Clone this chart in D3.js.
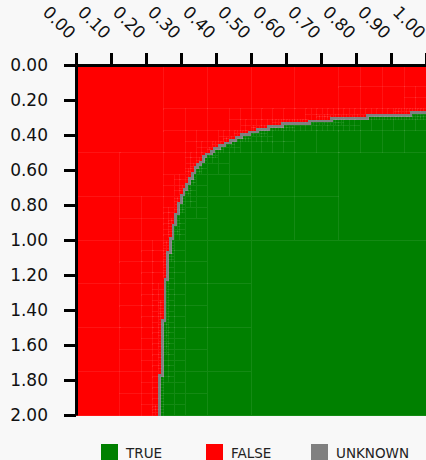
<!DOCTYPE html>
<html>
<head>
<meta charset="utf-8">
<script src="https://cdn.jsdelivr.net/npm/d3@7"></script>
<style>
  body { margin: 0; background: #f8f8f8; }
  svg { display: block; font-family: "DejaVu Sans", sans-serif; }
</style>
</head>
<body>
<svg id="chart" width="426" height="460"></svg>
<script>
// Edge of the TRUE region: at height y, TRUE starts at x.
const boundaryY = [0.274, 0.291, 0.303, 0.326, 0.337, 0.354, 0.389, 0.429, 0.474, 0.514,
  0.571, 0.629, 0.697, 0.754, 0.829, 0.903, 0.983, 1.097, 1.246, 1.497, 1.703, 1.817, 1.989];
const boundaryX = [1.000, 0.897, 0.769, 0.677, 0.611, 0.563, 0.497, 0.449, 0.403, 0.374,
  0.349, 0.331, 0.317, 0.303, 0.291, 0.283, 0.274, 0.263, 0.257, 0.249, 0.246, 0.240, 0.237];

const xTickValues = [0, 0.1, 0.2, 0.3, 0.4, 0.5, 0.6, 0.7, 0.8, 0.9, 1.0];
const yTickValues = [0, 0.2, 0.4, 0.6, 0.8, 1.0, 1.2, 1.4, 1.6, 1.8, 2.0];

const categories = ['TRUE', 'FALSE', 'UNKNOWN'];
const categoryColors = ['#008000', '#ff0000', '#808080'];

const maxDepth = 7;

const svg = d3.select('#chart');

const x = d3.scaleLinear().domain([0, 1]).range([76, 426]);
const y = d3.scaleLinear().domain([0, 2]).range([65, 415]);
const color = d3.scaleOrdinal().domain(categories).range(categoryColors);

// x where TRUE begins at height v (the edge only moves left as v grows)
const edgeAt = d3.scaleLinear().domain(boundaryY).range(boundaryX).clamp(true);
function edgeX(v) {
  return v < boundaryY[0] ? Infinity : edgeAt(v);
}

function classify(x0, y0, x1, y1) {
  if (x0 >= edgeX(y0)) return 'TRUE';
  if (x1 <= edgeX(y1)) return 'FALSE';
  return 'UNKNOWN';
}

// Quadtree over the domain, refined near the edge.
const cells = [];
function refine(x0, y0, x1, y1, depth) {
  const mx = (x1 - x0) * 0.2, my = (y1 - y0) * 0.2;
  const near = classify(x0 - mx, y0 - my, x1 + mx, y1 + my) === 'UNKNOWN';
  if (depth < maxDepth && (near || depth < 1)) {
    const cx = (x0 + x1) / 2, cy = (y0 + y1) / 2;
    refine(x0, y0, cx, cy, depth + 1);
    refine(cx, y0, x1, cy, depth + 1);
    refine(x0, cy, cx, y1, depth + 1);
    refine(cx, cy, x1, y1, depth + 1);
  } else {
    cells.push({ x0, y0, x1, y1, state: classify(x0, y0, x1, y1) });
  }
}
refine(0, 0, 1, 2, 0);

svg.append('g')
  .attr('shape-rendering', 'crispEdges')
  .selectAll('rect')
  .data(cells)
  .enter()
  .append('rect')
  .attr('x', d => x(d.x0))
  .attr('y', d => y(d.y0))
  .attr('width', d => x(d.x1) - x(d.x0) + 0.5)
  .attr('height', d => y(d.y1) - y(d.y0) + 0.5)
  .attr('fill', d => color(d.state))
  .attr('stroke', d => d.state === 'UNKNOWN' ? 'none' : 'rgba(255,255,255,0.08)')
  .attr('stroke-width', 1);

// Axes
const fmt = d3.format('.2f');

const xAxis = svg.append('g')
  .attr('transform', 'translate(0,65)')
  .call(d3.axisTop(x).tickValues(xTickValues).tickFormat(fmt).tickSize(12).tickSizeOuter(0));
xAxis.selectAll('text')
  .attr('x', 0)
  .attr('y', 0)
  .attr('dy', '0')
  .attr('text-anchor', 'end')
  .attr('transform', 'translate(-8,-25) rotate(45)');

const yAxis = svg.append('g')
  .attr('transform', 'translate(76,0)')
  .call(d3.axisLeft(y).tickValues(yTickValues).tickFormat(fmt).tickSize(12).tickPadding(16).tickSizeOuter(0));

[xAxis, yAxis].forEach(g => {
  g.attr('font-family', null).attr('font-size', null);
  g.selectAll('path, line').attr('stroke', '#000').attr('stroke-width', 3);
  g.selectAll('text').attr('fill', '#111').style('font-size', '17px');
});

// Legend
const legendX = d3.scaleBand().domain(categories).range([101, 416]);
const legend = svg.append('g')
  .selectAll('g')
  .data(categories)
  .enter()
  .append('g')
  .attr('transform', d => 'translate(' + legendX(d) + ',444)');
legend.append('rect')
  .attr('width', 17)
  .attr('height', 17)
  .attr('fill', d => color(d));
legend.append('text')
  .attr('x', 25)
  .attr('y', 14)
  .attr('fill', '#222')
  .style('font-size', '13.5px')
  .text(d => d);
</script>
</body>
</html>
